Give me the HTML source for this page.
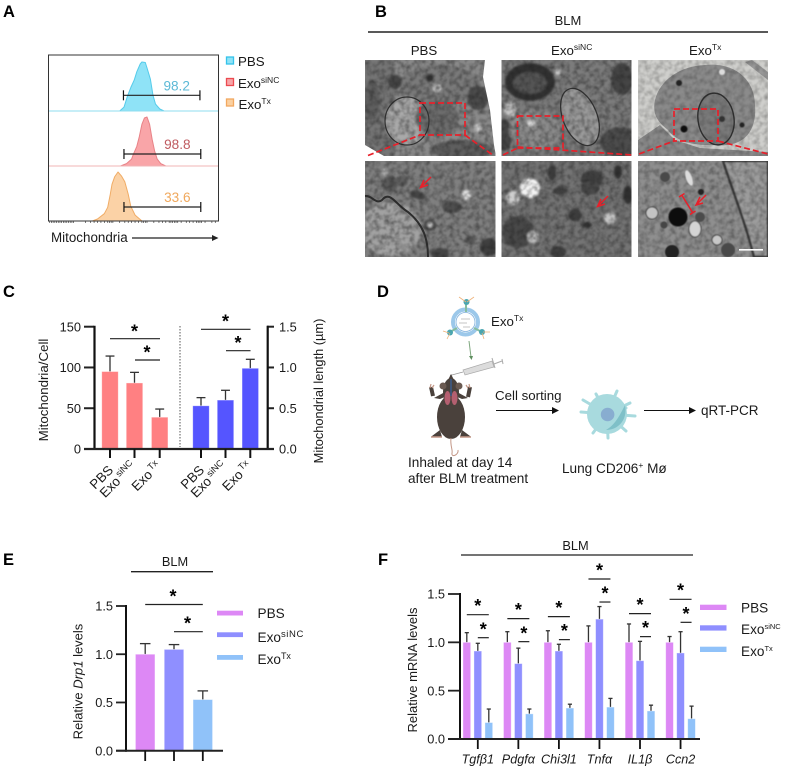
<!DOCTYPE html>
<html lang="en">
<head>
<meta charset="utf-8">
<title>Exosome mitochondria figure</title>
<style>
html,body{margin:0;padding:0;background:#fff;}
svg{display:block;}
text{font-family:"Liberation Sans",sans-serif;fill:#1a1a1a;}
.pl{font-size:16.5px;font-weight:bold;fill:#000;}
.t13{font-size:13.6px;}
.tk{font-size:12.8px;}
.it{font-style:italic;}
</style>
</head>
<body>
<svg id="fig" xmlns="http://www.w3.org/2000/svg" width="790" height="769" viewBox="0 0 790 769">
<defs>
<filter id="noise" x="0" y="0" width="100%" height="100%" color-interpolation-filters="sRGB">
<feTurbulence type="fractalNoise" baseFrequency=".2" numOctaves="3" seed="4"/>
<feColorMatrix values="0 0 0 0 .13 0 0 0 0 .13 0 0 0 0 .13 1.1 0 0 0 -.4"/>
<feGaussianBlur stdDeviation=".6"/>
</filter>
<filter id="soft" x="-10%" y="-10%" width="120%" height="120%"><feGaussianBlur stdDeviation="1"/></filter>
<filter id="soft2" x="-10%" y="-10%" width="120%" height="120%"><feGaussianBlur stdDeviation=".45"/></filter>
<clipPath id="c1"><rect x="365" y="60" width="130.5" height="96"/></clipPath>
<clipPath id="c2"><rect x="501.5" y="60" width="130" height="96"/></clipPath>
<clipPath id="c3"><rect x="638" y="60" width="130" height="96"/></clipPath>
<clipPath id="c4"><rect x="365" y="161" width="130.5" height="96"/></clipPath>
<clipPath id="c5"><rect x="501.5" y="161" width="130" height="96"/></clipPath>
<clipPath id="c6"><rect x="638" y="161" width="130" height="96"/></clipPath>
</defs>

<text class="pl" x="3" y="17">A</text>
<text class="pl" x="375" y="17">B</text>
<text class="pl" x="3" y="297">C</text>
<text class="pl" x="377" y="297">D</text>
<text class="pl" x="3" y="565">E</text>
<text class="pl" x="378" y="565">F</text>

<!-- Panel A -->
<g id="panelA"></g>
<rect x="48.5" y="55" width="170" height="166" fill="none" stroke="#333" stroke-width="1"/>
<g>
<rect x="226.5" y="57" width="7" height="7" fill="#8fe3f7" stroke="#35c3ea" stroke-width="1.3"/>
<text x="238" y="66" font-size="13.3">PBS</text>
<rect x="226.5" y="78.5" width="7" height="7" fill="#f8a5a8" stroke="#ec4a50" stroke-width="1.3"/>
<text x="238" y="88" font-size="13.3">Exo<tspan font-size="8.5" dy="-5">siNC</tspan></text>
<rect x="226.5" y="99" width="7" height="7" fill="#fbd0a0" stroke="#f2a860" stroke-width="1.3"/>
<text x="238.5" y="109" font-size="13.3">Exo<tspan font-size="8.5" dy="-5">Tx</tspan></text>
</g>
<text x="51" y="242" font-size="13.4">Mitochondria</text>
<g><line x1="132" y1="238" x2="212" y2="238" stroke="#222" stroke-width="1.2"/><path d="M212 235 L218.5 238 L212 241Z" fill="#222"/></g>

<!-- Panel B -->
<text x="568" y="25" font-size="13" text-anchor="middle">BLM</text>
<line x1="368" y1="32" x2="768" y2="32" stroke="#222" stroke-width="1.6"/>
<text x="424" y="55" font-size="13.3" text-anchor="middle">PBS</text>
<text x="551" y="55" font-size="13.3">Exo<tspan font-size="8.5" dy="-5">siNC</tspan></text>
<text x="689" y="55" font-size="13.3">Exo<tspan font-size="8.5" dy="-5">Tx</tspan></text>

<g clip-path="url(#c1)">
<rect x="365" y="60" width="131" height="96" fill="#8a8a8a"/>
<g filter="url(#soft)">
<rect x="365" y="60" width="30" height="96" fill="#747474"/>
<ellipse cx="440" cy="85" rx="40" ry="20" fill="#7a7a7a"/>
<ellipse cx="407" cy="121" rx="22" ry="24" fill="#a9a9a9"/>
<ellipse cx="437" cy="118" rx="22" ry="18" fill="#6d6d6d"/>
<ellipse cx="478" cy="98" rx="11" ry="12" fill="#4e4e4e"/>
<ellipse cx="462" cy="150" rx="30" ry="10" fill="#5e5e5e"/>
<ellipse cx="372" cy="100" rx="8" ry="20" fill="#5f5f5f"/>
<circle cx="437" cy="88" r="4" fill="#d8d8d8"/><circle cx="478" cy="128" r="4" fill="#d0d0d0"/>
<circle cx="395" cy="82" r="7" fill="#444"/><circle cx="430" cy="78" r="4" fill="#333"/>
</g>
<ellipse cx="407" cy="121" rx="22" ry="24" fill="none" stroke="#333" stroke-width="1.2"/>
<rect x="365" y="60" width="131" height="96" filter="url(#noise)"/>
<path d="M485 60 L496 60 L496 156 L494 145 L490 110 L483 77Z" fill="#fff"/>
<path d="M365 145 L384 156 L365 156Z" fill="#fff"/>
</g>
<g clip-path="url(#c2)">
<rect x="501.5" y="60" width="131" height="96" fill="#7c7c7c"/>
<g filter="url(#soft)">
<ellipse cx="530" cy="82" rx="25" ry="19" fill="#333"/>
<ellipse cx="530" cy="83" rx="17" ry="11" fill="#555"/>
<ellipse cx="622" cy="79" rx="11" ry="16" fill="#444"/>
<ellipse cx="620" cy="142" rx="20" ry="15" fill="#4d4d4d"/>
<ellipse cx="510" cy="110" rx="6" ry="8" fill="#c4c4c4"/>
<ellipse cx="504" cy="135" rx="8" ry="16" fill="#444"/>
<ellipse cx="535" cy="130" rx="26" ry="20" fill="#8c8c8c"/>
<circle cx="531" cy="123" r="3.5" fill="#eee"/>
<circle cx="558" cy="72" r="3" fill="#ccc"/>
</g>
<ellipse cx="580" cy="117" rx="17" ry="30" transform="rotate(-22 580 117)" fill="#9a9a9a" stroke="#333" stroke-width="1.3"/>
<rect x="501" y="60" width="131" height="96" filter="url(#noise)"/>
</g>
<g clip-path="url(#c3)">
<rect x="638" y="60" width="130" height="96" fill="#cfcfcc"/>
<path d="M638 140 L660 125 L675 140 L700 148 L768 152 L768 156 L638 156Z" fill="#8a8a8a"/>
<path d="M655 100 C660 80 680 66 705 65 C735 62 755 80 755 105 C757 130 745 148 715 145 C690 146 675 140 668 130 C658 122 652 115 655 100Z" fill="#8b8b8b"/>
<path d="M745 62 L768 80 L768 72 L752 60Z" fill="#999"/>
<ellipse cx="716" cy="119" rx="18" ry="26" transform="rotate(-8 716 119)" fill="#7b7b7b" stroke="#2f2f2f" stroke-width="1.4"/>
<path d="M655 100 C660 80 680 66 705 65 C735 62 755 80 755 105 C757 130 745 148 715 145 C690 146 675 140 668 130 C658 122 652 115 655 100Z M638 140 L660 125 L675 140 L700 148 L768 152 L768 156 L638 156Z" fill="#000" opacity="0"/>
<rect x="638" y="60" width="130" height="96" filter="url(#noise)" opacity=".6"/>
<g filter="url(#soft2)"><circle cx="684" cy="129" r="3.5" fill="#111"/><circle cx="679" cy="83" r="3" fill="#222"/><circle cx="722" cy="119" r="3" fill="#333"/><circle cx="722" cy="72" r="3" fill="#ddd"/><circle cx="742" cy="125" r="2.5" fill="#222"/></g>
</g>
<g clip-path="url(#c4)">
<rect x="365" y="161" width="131" height="96" fill="#808080"/>
<g filter="url(#soft)">
<ellipse cx="391" cy="229" rx="30" ry="27" fill="#a2a2a2"/>
<ellipse cx="418" cy="195" rx="8" ry="4" transform="rotate(20 418 195)" fill="#444"/>
<ellipse cx="452" cy="207" rx="10" ry="6" fill="#4f4f4f"/>
<circle cx="390" cy="184" r="8" fill="#5a5a5a"/><circle cx="402" cy="181" r="6" fill="#5e5e5e"/>
<circle cx="466" cy="195" r="5" fill="#e0e0e0"/><circle cx="430" cy="225" r="6" fill="#4e4e4e"/><circle cx="430" cy="225" r="2.5" fill="#ccc"/>
<ellipse cx="440" cy="254" rx="9" ry="6" fill="#444"/><circle cx="489" cy="247" r="9" fill="#3f3f3f"/>
<circle cx="385" cy="172" r="3" fill="#ddd"/><ellipse cx="470" cy="240" rx="5" ry="4" fill="#555"/>
</g>
<path d="M365 196 C372 195 376 205 382 200 C390 190 396 205 408 212 C424 225 428 240 428 257" fill="none" stroke="#2f2f2f" stroke-width="2"/>
<rect x="365" y="161" width="131" height="96" filter="url(#noise)"/>
</g>
<g clip-path="url(#c5)">
<rect x="501.5" y="161" width="131" height="96" fill="#747474"/>
<g filter="url(#soft)">
<circle cx="530" cy="188" r="10" fill="#f4f4f4"/><circle cx="513" cy="198" r="7" fill="#cfcfcf"/>
<ellipse cx="592" cy="179" rx="11" ry="9" fill="#404040"/><ellipse cx="590" cy="188" rx="9" ry="7" fill="#4a4a4a"/>
<circle cx="575" cy="215" r="6.5" fill="#3d3d3d"/><ellipse cx="518" cy="232" rx="16" ry="16" fill="#484848"/>
<circle cx="610" cy="218" r="6" fill="#c6c6c6"/><ellipse cx="560" cy="191" rx="7" ry="4" fill="#404040"/>
<ellipse cx="552" cy="173" rx="4" ry="8" fill="#3a3a3a"/><ellipse cx="558" cy="252" rx="8" ry="6" fill="#404040"/>
<circle cx="533" cy="237" r="6" fill="#bcbcbc"/><ellipse cx="587" cy="225" rx="5" ry="3" fill="#333"/>
<ellipse cx="618" cy="172" rx="4" ry="7" fill="#333"/><ellipse cx="628" cy="195" rx="5" ry="9" fill="#333"/>
</g>
<rect x="501" y="161" width="131" height="96" filter="url(#noise)"/>
</g>
<g clip-path="url(#c6)">
<rect x="638" y="161" width="130" height="96" fill="#8f8f8f"/>
<path d="M723 161 L768 161 L768 257 L754 257 C746 225 736 200 723 161Z" fill="#9c9c9c" stroke="#3e3e3e" stroke-width="2.5" filter="url(#soft2)"/>
<rect x="638" y="161" width="130" height="96" filter="url(#noise)" opacity=".8"/>
<g filter="url(#soft2)">
<circle cx="678" cy="217" r="9.5" fill="#0d0d0d"/><ellipse cx="695" cy="229" rx="6" ry="8" fill="#d4d4d4" stroke="#444"/>
<circle cx="665" cy="177" r="5" fill="#4a4a4a"/><circle cx="700" cy="217" r="5" fill="#4c4c4c"/>
<circle cx="728" cy="250" r="7" fill="#4a4a4a"/><circle cx="672" cy="252" r="7" fill="#222"/>
<circle cx="652" cy="213" r="6" fill="#c4c4c4" stroke="#444"/><ellipse cx="689" cy="178" rx="3" ry="8" transform="rotate(-20 689 178)" fill="#ddd"/>
<circle cx="664" cy="225" r="3.5" fill="#444"/><circle cx="717" cy="240" r="5" fill="#c8c8c8" stroke="#444"/>
<circle cx="701" cy="192" r="3" fill="#222"/>
</g>
</g>
<g fill="none" stroke="#e8202a" stroke-width="1.7" stroke-dasharray="6 3">
<rect x="420" y="103" width="45" height="32"/>
<rect x="517.5" y="116" width="45.5" height="32"/>
<rect x="674" y="109" width="44" height="32"/>
<path d="M368 155.5 L420 135 M465 135 L494 156 M503 155 L517.5 148 M517.5 147 L632 155 M639 154 L674 141 M718 141 L768 154"/>
</g>
<g stroke="#e8202a" stroke-width="1.5" fill="none">
<path d="M431 177 L421 187 M424 180 L420.5 187.5 L428 185"/>
<path d="M608 196 L598 206 M601 199 L597.5 206.5 L605 204"/>
<path d="M706 195 L697 204 M700 197 L696 205 L703 203"/>
<path d="M681.7 195 L692.7 212.7 M679 197 L684.5 193.5 M690 214.5 L695.5 211"/>
</g>
<rect x="739" y="249" width="24" height="1.6" fill="#fff"/>

<!-- Panel C -->
<g id="panelC"></g>
<text class="t13" transform="translate(48,390) rotate(-90)" text-anchor="middle" style="font-size:13.3px">Mitochondria/Cell</text>
<text font-size="12.8" transform="translate(323,391) rotate(-90)" text-anchor="middle">Mitochondrial length (µm)</text>
<line x1="180" y1="326" x2="180" y2="447" stroke="#555" stroke-width="1" stroke-dasharray="1.5 1.5"/>

<!-- Panel D -->
<g>
<circle cx="465.5" cy="322" r="12.5" fill="none" stroke="#9cc8ea" stroke-width="4"/>
<circle cx="465.5" cy="322" r="9.5" fill="none" stroke="#7fb0dc" stroke-width=".8"/>
<path d="M461 319 h9 M459 323 h8 M463 327 h7" stroke="#c5c5c5" stroke-width="1"/>
<path d="M466 303 L466 312 M450 332 L457 328 M482 332 L474 328" stroke="#86bda0" stroke-width="2"/>
<circle cx="466.5" cy="302" r="3" fill="#4aa6b0"/><circle cx="450" cy="332.5" r="3" fill="#4aa6b0"/><circle cx="482" cy="332" r="3" fill="#4aa6b0"/>
<path d="M466 302 L459 297 M467 302 L474 297 M449 333 L443 331 M450 333 L447 339 M483 332 L490 332 M482 333 L484 339" stroke="#eeb27a" stroke-width=".8"/>
</g>
<g><line x1="469" y1="341" x2="471" y2="357" stroke="#7fa77f" stroke-width="1"/><path d="M469 356 L473 356 L471.5 360Z" fill="#5f8f5f"/></g>
<g>
<line x1="450" y1="375.5" x2="463" y2="372" stroke="#999" stroke-width=".7"/>
<path d="M463 370 L492 361 L494 367 L465 375Z" fill="#dcdcdc" stroke="#aaa" stroke-width=".7"/>
<path d="M492 358 L495 368 M494 364 L502 361 M502 359 L503 364" stroke="#aaa" stroke-width="1" fill="none"/>
</g>
<g>
<ellipse cx="451" cy="417" rx="14" ry="22" fill="#4a413c"/>
<ellipse cx="451" cy="392" rx="8" ry="14" fill="#4a413c"/>
<path d="M451 374 L456 384 L446 384Z" fill="#4a413c"/>
<circle cx="443" cy="386" r="3.5" fill="#6a5a52"/><circle cx="459" cy="386" r="3.5" fill="#6a5a52"/>
<path d="M445 392 L434 398 L440 399 L447 396Z" fill="#4a413c"/>
<path d="M433 396 L431 387" stroke="#4a413c" stroke-width="4"/><path d="M457 392 L468 398 L462 399 L455 396Z" fill="#4a413c"/><path d="M468 397 L470 387" stroke="#4a413c" stroke-width="4"/>
<path d="M430 388 L431 384 M432 388 L434 385 M470 388 L469 384 M468 388 L466 385" stroke="#c49888" stroke-width="1.2"/>
<ellipse cx="447.5" cy="398" rx="3" ry="7" fill="#b45f70"/><ellipse cx="454.5" cy="398" rx="3" ry="7" fill="#b45f70"/>
<line x1="451" y1="379" x2="451" y2="396" stroke="#3a5a8a" stroke-width="1.5"/>
<path d="M451 438 C450 446 453 450 452 453 C451 458 459 455 458 450" stroke="#c49888" stroke-width="1" fill="none"/>
<path d="M440 430 L432 436 L431 437 L442 437Z M462 430 L470 436 L471 437 L460 437Z" fill="#4a413c"/>
<path d="M431 437 L442 437 M460 437 L471 437" stroke="#c49888" stroke-width="1.6"/>
</g>
<text class="t13" x="491" y="326" style="font-size:13.3px">Exo<tspan font-size="8.5" dy="-5">Tx</tspan></text>
<text class="t13" x="495" y="400" style="font-size:13.3px">Cell sorting</text>
<g><line x1="496" y1="410.5" x2="556" y2="410.5" stroke="#111" stroke-width="1"/><path d="M552 407 L559 410.5 L552 414Z" fill="#111"/></g>
<g>
<circle cx="607" cy="414" r="20" fill="#a8dade"/>
<g stroke="#a8dade" stroke-width="3" stroke-linecap="round">
<line x1="607" y1="414" x2="617" y2="391"/><line x1="607" y1="414" x2="596" y2="394"/><line x1="607" y1="414" x2="583" y2="400"/><line x1="607" y1="414" x2="581" y2="412"/><line x1="607" y1="414" x2="630" y2="403"/><line x1="607" y1="414" x2="635" y2="416"/><line x1="607" y1="414" x2="626" y2="431"/><line x1="607" y1="414" x2="626" y2="408"/><line x1="607" y1="414" x2="593" y2="433"/><line x1="607" y1="414" x2="608" y2="438"/>
</g>
<path d="M625 405 C628 420 618 430 606 430 C615 425 620 415 625 405Z" fill="#7fc0c8"/>
<circle cx="607.6" cy="414.5" r="6.8" fill="#88add0"/>
</g>
<g><line x1="644" y1="410.5" x2="692" y2="410.5" stroke="#111" stroke-width="1"/><path d="M689 407 L696 410.5 L689 414Z" fill="#111"/></g>
<text x="701" y="415" font-size="13.5">qRT-PCR</text>
<text class="t13" x="408" y="467">Inhaled at day 14</text>
<text class="t13" x="408" y="483">after BLM treatment</text>
<text class="t13" x="562" y="473">Lung CD206<tspan font-size="8.5" dy="-5">+</tspan><tspan dy="5"> Mø</tspan></text>

<!-- Panel E -->
<text x="175" y="566" font-size="12.8" text-anchor="middle">BLM</text>
<line x1="131" y1="571.7" x2="213" y2="571.7" stroke="#222" stroke-width="1.3"/>
<g id="panelE"></g>
<text transform="translate(82.5,681.5) rotate(-90)" text-anchor="middle" style="font-size:13px">Relative <tspan class="it">Drp1</tspan> levels</text>
<g>
<rect x="217" y="610.7" width="26" height="4.8" fill="#dd88f5"/>
<rect x="217" y="632.3" width="26" height="4.8" fill="#8f8fff"/>
<rect x="217" y="655" width="26" height="4.8" fill="#90c2f9"/>
<text x="257.5" y="618" class="t13">PBS</text>
<text x="257.5" y="642" class="t13">Exo<tspan font-size="9.5" dy="-5" letter-spacing=".6">siNC</tspan></text>
<text x="257.5" y="664" class="t13">Exo<tspan font-size="9" dy="-5">Tx</tspan></text>
</g>

<!-- Panel F -->
<text x="575.5" y="550" font-size="12.8" text-anchor="middle">BLM</text>
<line x1="461" y1="555" x2="693" y2="555" stroke="#222" stroke-width="1.3"/>
<g id="panelF"></g>
<text style="font-size:13px" transform="translate(417,670) rotate(-90)" text-anchor="middle">Relative mRNA levels</text>
<g>
<rect x="700" y="604.7" width="26.5" height="5.3" fill="#dd88f5"/>
<rect x="700" y="625.3" width="26.5" height="5.3" fill="#8f8fff"/>
<rect x="700" y="646.7" width="26.5" height="5.3" fill="#90c2f9"/>
<text x="741" y="612.5" class="t13">PBS</text>
<text x="741" y="634" class="t13">Exo<tspan font-size="7.5" dy="-5">siNC</tspan></text>
<text x="741" y="656" class="t13">Exo<tspan font-size="7.5" dy="-5">Tx</tspan></text>
</g>

<script>
// Panel A data
const flowNames = ['pbs', 'exo-sinc', 'exo-tx'];
const flowChannelsPbs = [42, 44.5, 46.5, 48.5, 50.5, 52, 54, 55, 57, 58, 60, 61.5, 63, 65.5, 68];
const flowCountsPbs = [0, 8, 30, 48, 63, 80, 96, 100, 99, 88, 65, 32, 14, 4, 0];
const flowChannelsSinc = [42.5, 46, 49, 50, 52, 53.5, 55, 56.5, 58, 59.5, 61, 62.5, 64, 66, 69];
const flowCountsSinc = [0, 5, 14, 24, 40, 60, 85, 98, 100, 85, 55, 30, 14, 5, 0];
const flowChannelsTx = [26, 29, 33, 35, 36.5, 37.5, 39, 41, 43, 45, 47, 48.5, 51, 54, 55];
const flowCountsTx = [0, 4, 15, 28, 55, 75, 90, 100, 92, 80, 55, 30, 12, 3, 0];
const flowGatePct = ['98.2', '98.8', '33.6'];
const flowGateStart = [44.2, 44.5, 44.5];
const flowGateEnd = [89, 89.5, 89.5];
const flowAxisMinorTicks = [1,2,3,4,5,6,7,8,9,10,11,12,13,14,15,22,25,27,29,31,33,35,36,37,38,42,45,47,49,51,53,55,56,57,58,62,65,67,69,71,72,73,74,75,76,78,81,83,85,87,88,89,90,92,96,98];

// Panel C data
const cCategories = ['PBS', 'Exo', 'Exo'];
const cSuperscripts = ['', 'siNC', 'Tx'];
const cCountValues = [95, 81, 39];
const cCountErrors = [114, 94, 49];
const cLengthValues = [0.53, 0.60, 0.99];
const cLengthErrors = [0.63, 0.72, 1.10];
const cCountTicks = ['0', '50', '100', '150'];
const cLengthTicks = ['0.0', '0.5', '1.0', '1.5'];

// Panel E data
const eGroups = ['PBS', 'ExosiNC', 'ExoTx'];
const eValues = [1.0, 1.05, 0.53];
const eErrors = [1.11, 1.10, 0.62];
const eTicks = ['0.0', '0.5', '1.0', '1.5'];

// Panel F data
const fGenes = ['Tgfβ1', 'Pdgfα', 'Chi3l1', 'Tnfα', 'IL1β', 'Ccn2'];
const fPbs = [1.0, 1.0, 1.0, 1.0, 1.0, 1.0];
const fSinc = [0.91, 0.78, 0.91, 1.24, 0.81, 0.89];
const fTx = [0.17, 0.26, 0.32, 0.33, 0.29, 0.21];
const fPbsErr = [1.10, 1.11, 1.12, 1.17, 1.19, 1.06];
const fSincErr = [0.99, 0.94, 0.98, 1.37, 1.01, 1.11];
const fTxErr = [0.31, 0.31, 0.36, 0.42, 0.35, 0.34];
const fBracketLevels = [1.286, 1.245, 1.266, 1.655, 1.297, 1.445];
const fTicks = ['0.0', '0.5', '1.0', '1.5'];

const SVGNS = 'http://www.w3.org/2000/svg';
function mk(parent, tag, attrs, txt) {
  const el = document.createElementNS(SVGNS, tag);
  for (const k in attrs) el.setAttribute(k, attrs[k]);
  if (txt !== undefined && txt !== null) el.textContent = txt;
  parent.appendChild(el);
  return el;
}
function star(parent, x, cy, name) {
  const el = mk(parent, 'text', {x: x, y: cy + 10.3, 'text-anchor': 'middle', 'font-size': 18, 'font-weight': 'bold', style: 'fill:#000'}, '*');
  
  
}
function hline(parent, x1, x2, y, w, name) {
  const el = mk(parent, 'line', {x1: x1, x2: x2, y1: y, y2: y, stroke: '#222', 'stroke-width': w});
  
  
}
function bar(parent, xc, w, yScale, val, err, fill, name) {
  const top = yScale(val), base = yScale(0), e = yScale(err);
  const stem = mk(parent, 'line', {x1: xc, x2: xc, y1: top, y2: e, stroke: '#333', 'stroke-width': 1.3});
  
  
  const cap = mk(parent, 'line', {x1: xc - w * 0.27, x2: xc + w * 0.27, y1: e, y2: e, stroke: '#333', 'stroke-width': 1.3});
  
  
  const r = mk(parent, 'rect', {x: xc - w / 2, y: top, width: w, height: base - top, fill: fill, stroke: '#fff', 'stroke-opacity': .45, 'stroke-width': .8});
  
  
}
function vline(parent, x, y1, y2, w, name) {
  const el = mk(parent, 'line', {x1: x, x2: x, y1: y1, y2: y2, stroke: '#111', 'stroke-width': w});
  
  
}

// ---- Panel A ----
const gA = document.getElementById('panelA');
const flowX = c => 48 + c * 1.707;
const flowBases = [111, 166, 221];
const flowChannels = [flowChannelsPbs, flowChannelsSinc, flowChannelsTx];
const flowCounts = [flowCountsPbs, flowCountsSinc, flowCountsTx];
const flowFill = ['#8fe3f7', '#f9a5a8', '#fbd2a6'];
const flowStroke = ['#55cbea', '#e88287', '#f0ac66'];
const flowBaseCol = ['#8fdcef', '#f0b4b6', '#f0ac66'];
const flowText = ['#5cb9d6', '#bf5a5f', '#f0a85c'];
const flowGateY = [95.3, 154, 207];
flowNames.forEach((n, i) => {
  const base = flowBases[i];
  const flowY = v => base - v * 0.49;
  const pts = flowChannels[i].map((c, j) => flowX(c).toFixed(1) + ',' + flowY(flowCounts[i][j]).toFixed(1));
  const poly = mk(gA, 'polygon', {points: pts.join(' '), fill: flowFill[i], stroke: flowStroke[i], 'stroke-width': 1, 'stroke-linejoin': 'round'});
  
  
  if (i < 2) {
    const bl = mk(gA, 'line', {x1: 48, x2: 218, y1: base, y2: base, stroke: flowBaseCol[i], 'stroke-width': .9});
    
    
  }
  const gx1 = flowX(flowGateStart[i]), gx2 = flowX(flowGateEnd[i]), gy = flowGateY[i];
  hline(gA, gx1, gx2, gy, 1.2, 'gate-line-' + n);
  vline(gA, gx1, gy - 5, gy + 5, 1.2, 'gate-cap-left-' + n);
  vline(gA, gx2, gy - 5, gy + 5, 1.2, 'gate-cap-right-' + n);
  const t = mk(gA, 'text', {x: (gx1 + gx2) / 2 + 15, y: gy - 5, 'text-anchor': 'middle', 'font-size': 13.6, style: 'fill:' + flowText[i]}, flowGatePct[i]);
  
  
});
flowAxisMinorTicks.forEach(c => {
  const tk = mk(gA, 'line', {x1: flowX(c), x2: flowX(c), y1: 221, y2: 223, stroke: '#444', 'stroke-width': .7});
  
  
});

// ---- Panel C ----
const gC = document.getElementById('panelC');
const yCount = v => 449 - v * (122.3 / 150);
const yLen = v => 449 - v * (122.3 / 1.5);
const cLeftX = [110, 134.5, 159.7];
const cRightX = [201, 225.5, 250.3];
function cLabels(xs, prefix) {
  cCategories.forEach((c, i) => {
    const ax = xs[i] + (i === 0 ? 4 : 2);
    const ay = i === 0 ? 471 : 467;
    const t = mk(gC, 'text', {transform: 'translate(' + ax + ',' + ay + ') rotate(-45)', 'text-anchor': 'end', 'font-size': 13.3});
    
    
    t.appendChild(document.createTextNode(c));
    if (cSuperscripts[i]) {
      const s = mk(t, 'tspan', {'font-size': 9, dy: -5, dx: 2}, cSuperscripts[i]);
      
      
    }
  });
}
cCountValues.forEach((v, i) => {
  bar(gC, cLeftX[i], 16.5, yCount, v, cCountErrors[i], '#ff8082', 'bar-count-' + i);
});
cLengthValues.forEach((v, i) => {
  bar(gC, cRightX[i], 16.5, yLen, v, cLengthErrors[i], '#5555ff', 'bar-length-' + i);
});
cCountTicks.forEach(t => {
  const v = +t;
  hline(gC, 84, 94, yCount(v), 2, 'left-axis-tick');
  const l = mk(gC, 'text', {x: 81, y: yCount(v) + 4.7, 'text-anchor': 'end', 'font-size': 12.8}, t);
  
  
});
cLengthTicks.forEach(t => {
  const v = +t;
  hline(gC, 267, 274, yLen(v), 2, 'right-axis-tick');
  const l = mk(gC, 'text', {x: 279, y: yLen(v) + 4.7, 'font-size': 12.8}, t);
  
  
});
vline(gC, 94.5, yCount(150) - 1, 450, 2.2, 'left-axis-line');
vline(gC, 267.7, yLen(1.5) - 1, 450, 2.2, 'right-axis-line');
hline(gC, 84, 274, 449, 2.2, 'x-axis-line');
cLeftX.concat(cRightX).forEach(x => { vline(gC, x, 449, 458, 2, 'x-axis-tick'); });
cLabels(cLeftX, 'count');
cLabels(cRightX, 'length');
hline(gC, 110, 160, 338.7, 1.2, 'sig-line-count-upper');
hline(gC, 135, 160, 360, 1.2, 'sig-line-count-lower');
star(gC, 134.5, 327, 'sig-star-count-upper');
star(gC, 147, 348, 'sig-star-count-lower');
hline(gC, 201, 250.5, 329.3, 1.2, 'sig-line-length-upper');
hline(gC, 226, 250.5, 350.7, 1.2, 'sig-line-length-lower');
star(gC, 225.5, 317, 'sig-star-length-upper');
star(gC, 238, 338.5, 'sig-star-length-lower');

// ---- Panel E ----
const gE = document.getElementById('panelE');
const yE = v => 750.7 - v * (144.7 / 1.5);
const xE = i => 145.2 + i * 28.8;
eValues.forEach((v, i) => {
  bar(gE, xE(i), 19.5, yE, v, eErrors[i], ['#dd88f5', '#8f8fff', '#90c2f9'][i], 'bar-' + eGroups[i].toLowerCase());
});
eTicks.forEach(t => {
  const v = +t;
  hline(gE, 116, 126, yE(v), 1.8, 'y-axis-tick');
  const l = mk(gE, 'text', {x: 113, y: yE(v) + 4.7, 'text-anchor': 'end', 'font-size': 12.8}, t);
  
  
});
vline(gE, 126, yE(1.5) - 1, 751.7, 2, 'y-axis-line');
hline(gE, 116, 223, 750.7, 2, 'x-axis-line');
eValues.forEach((v, i) => { vline(gE, xE(i), 750.7, 761, 1.8, 'x-axis-tick'); });
hline(gE, xE(0), xE(2), 604.5, 1.2, 'sig-line-upper');
hline(gE, xE(1), xE(2), 631.7, 1.2, 'sig-line-lower');
star(gE, 173, 592, 'sig-star-upper');
star(gE, 187.5, 619, 'sig-star-lower');

// ---- Panel F ----
const gF = document.getElementById('panelF');
const yF = v => 739 - v * (145 / 1.5);
const xF = (g, s) => 466.8 + g * 40.55 + s * 11;
const fSeries = [fPbs, fSinc, fTx];
const fErrs = [fPbsErr, fSincErr, fTxErr];
const fCols = ['#dd88f5', '#8f8fff', '#90c2f9'];
const fSeriesNames = ['pbs', 'exo-sinc', 'exo-tx'];
fGenes.forEach((g, gi) => {
  fSeries.forEach((ser, si) => {
    bar(gF, xF(gi, si), 7.7, yF, ser[gi], fErrs[si][gi], fCols[si], 'bar-' + gi + '-' + fSeriesNames[si]);
  });
  vline(gF, xF(gi, 1), 739, 749, 1.8, 'x-axis-tick');
  const l = mk(gF, 'text', {x: xF(gi, 1), y: 763.5, 'text-anchor': 'middle', 'font-size': 12.6, 'font-style': 'italic'}, g);
  
  
  const up = yF(fBracketLevels[gi]), lo = yF(fBracketLevels[gi] - 0.238);
  hline(gF, xF(gi, 0), xF(gi, 2), up, 1.2, 'sig-line-upper-' + gi);
  hline(gF, xF(gi, 1), xF(gi, 2), lo, 1.2, 'sig-line-lower-' + gi);
  star(gF, xF(gi, 1), up - 13, 'sig-star-upper-' + gi);
  star(gF, xF(gi, 1) + 5.5, lo - 12.7, 'sig-star-lower-' + gi);
});
fTicks.forEach(t => {
  const v = +t;
  hline(gF, 448, 460, yF(v), 1.8, 'y-axis-tick');
  const l = mk(gF, 'text', {x: 445, y: yF(v) + 4.7, 'text-anchor': 'end', 'font-size': 12.8}, t);
  
  
});
vline(gF, 460, yF(1.5) - 1, 740, 2, 'y-axis-line');
hline(gF, 448, 700, 739, 2, 'x-axis-line');
</script>
</svg>
</body>
</html>
